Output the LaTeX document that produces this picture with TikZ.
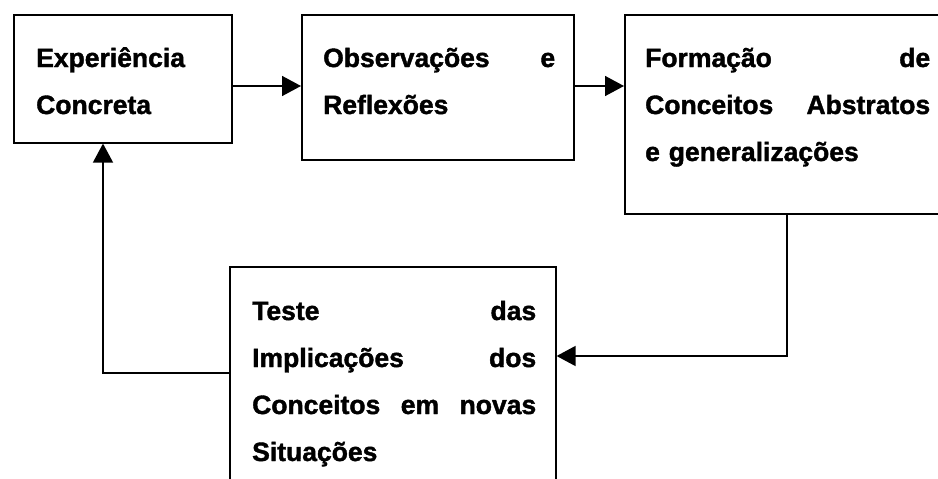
\documentclass[tikz,border=0pt]{standalone}
\usepackage{fontspec}
\setmainfont[BoldFeatures={FakeBold=1.5}]{Liberation Sans}
\usetikzlibrary{arrows.meta}
\begin{document}
\begin{tikzpicture}[x=1pt,y=-1pt,
  box/.style={draw, line width=1.6pt, rectangle, anchor=north west, inner sep=0pt},
  txt/.style={anchor=base west, inner sep=0pt, font=\bfseries\fontsize{26.5}{47}\selectfont},
  arr/.style={line width=1.6pt, -{Triangle[length=19pt,width=20pt]}}]
\useasboundingbox (0,0) rectangle (938,479);
% boxes
\node[box, minimum width=218pt, minimum height=128pt] (b1) at (13,14) {};
\node[box, minimum width=272pt, minimum height=145pt] (b2) at (301,14) {};
\node[box, minimum width=330pt, minimum height=199pt] (b3) at (624,14) {};
\node[box, minimum width=326pt, minimum height=240pt] (b4) at (229,266) {};
% texts
\node[txt, text width=176pt] (t1) at (36,67) {Experiência\\Concreta};
\node[txt, text width=232pt] (t2) at (323,67) {Observações\hfill e\\Reflexões};
\node[txt, text width=285pt] (t3) at (645,67) {Formação\hfill de\\Conceitos\hfill Abstratos\\e generalizações};
\node[txt, text width=284pt] (t4) at (252,320) {Teste\hfill das\\Implicações\hfill dos\\Conceitos\hfill em\hfill novas\\Situações};
% connectors
\coordinate (y1) at (0,86);
\coordinate (c3) at (787,356);
\coordinate (c4) at (103,373);
\draw[arr] (b1.east |- y1) -- (b2.west |- y1);
\draw[arr] (b2.east |- y1) -- (b3.west |- y1);
\draw[arr] (b3.south -| c3) -- (c3) -- (b4.east |- c3);
\draw[arr] (b4.west |- c4) -- (c4) -- (b1.south -| c4);
\end{tikzpicture}
\end{document}
